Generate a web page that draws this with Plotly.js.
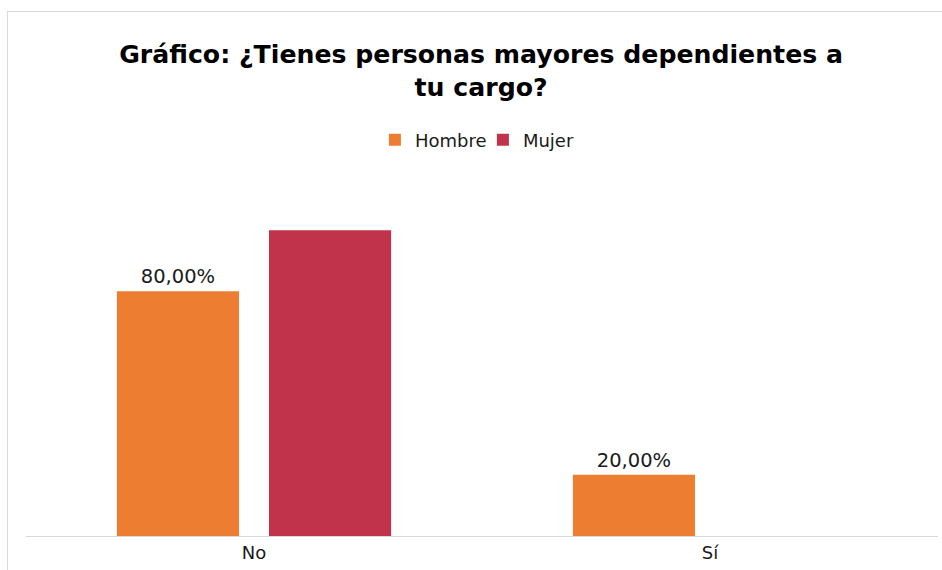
<!DOCTYPE html>
<html>
<head>
<meta charset="utf-8">
<script src="https://cdn.plot.ly/plotly-3.0.1.min.js"></script>
<style>
  html, body { margin: 0; padding: 0; background: #ffffff; overflow: hidden; }
  #wrap { position: relative; width: 942px; height: 570px; }
  #chart { position: absolute; left: 0; top: 0; width: 942px; height: 570px; }
  #frame { position: absolute; left: 7px; top: 11px; width: 1000px; height: 1000px;
           border-left: 1px solid #d9d9d9; border-top: 1px solid #d9d9d9; pointer-events: none; }
</style>
</head>
<body>
<div id="wrap">
  <div id="chart"></div>
  <div id="frame"></div>
</div>
<script>
const categories = ['No', 'Sí'];
const hombreValues = [0.80, 0.20];
const mujerValues = [1.00, 0.00];
const seriesNames = ['Hombre', 'Mujer'];

const FONT = 'DejaVu Sans, Verdana, sans-serif';

const traces = [
  {
    type: 'bar',
    name: seriesNames[0],
    x: categories,
    y: hombreValues,
    marker: { color: '#ED7D31' },
    texttemplate: '%{y:.2%}',
    textposition: 'outside',
    cliponaxis: false,
    textfont: { family: FONT, size: 19.5, color: '#1a1a1a' },
    hoverinfo: 'none'
  },
  {
    type: 'bar',
    name: seriesNames[1],
    x: categories,
    y: mujerValues,
    marker: { color: '#C1334B' },
    hoverinfo: 'none'
  }
];

const layout = {
  width: 942,
  height: 570,
  separators: ',.',
  paper_bgcolor: 'rgba(0,0,0,0)',
  plot_bgcolor: 'rgba(0,0,0,0)',
  margin: { l: 26, r: 4, t: 169, b: 34, pad: 0 },
  font: { family: FONT, size: 18, color: '#1a1a1a' },
  title: {
    text: '<b>Gráfico: ¿Tienes personas mayores dependientes a<br>tu cargo?</b>',
    font: { family: FONT, size: 25.2, color: '#000000' },
    x: 0.499, xref: 'paper', xanchor: 'center',
    y: 0.889, yref: 'container', yanchor: 'top'
  },
  showlegend: true,
  legend: {
    orientation: 'h',
    x: 0.501, xanchor: 'center',
    y: 1.079, yref: 'paper',
    yanchor: 'middle',
    font: { family: FONT, size: 18, color: '#1a1a1a' },
    itemwidth: 30,
    entrywidth: 63,
    traceorder: 'normal'
  },
  barmode: 'group',
  bargap: 0.333,
  bargroupgap: 0.197,
  xaxis: {
    type: 'category',
    showline: true,
    linecolor: '#d9d9d9',
    linewidth: 1,
    ticks: '',
    showgrid: false,
    zeroline: false,
    tickfont: { family: FONT, size: 18, color: '#1a1a1a' },
    fixedrange: true
  },
  yaxis: {
    range: [0, 1.2],
    visible: false,
    showgrid: false,
    zeroline: false,
    fixedrange: true
  }
};

Plotly.newPlot('chart', traces, layout, { displayModeBar: false, staticPlot: true });
</script>
</body>
</html>
